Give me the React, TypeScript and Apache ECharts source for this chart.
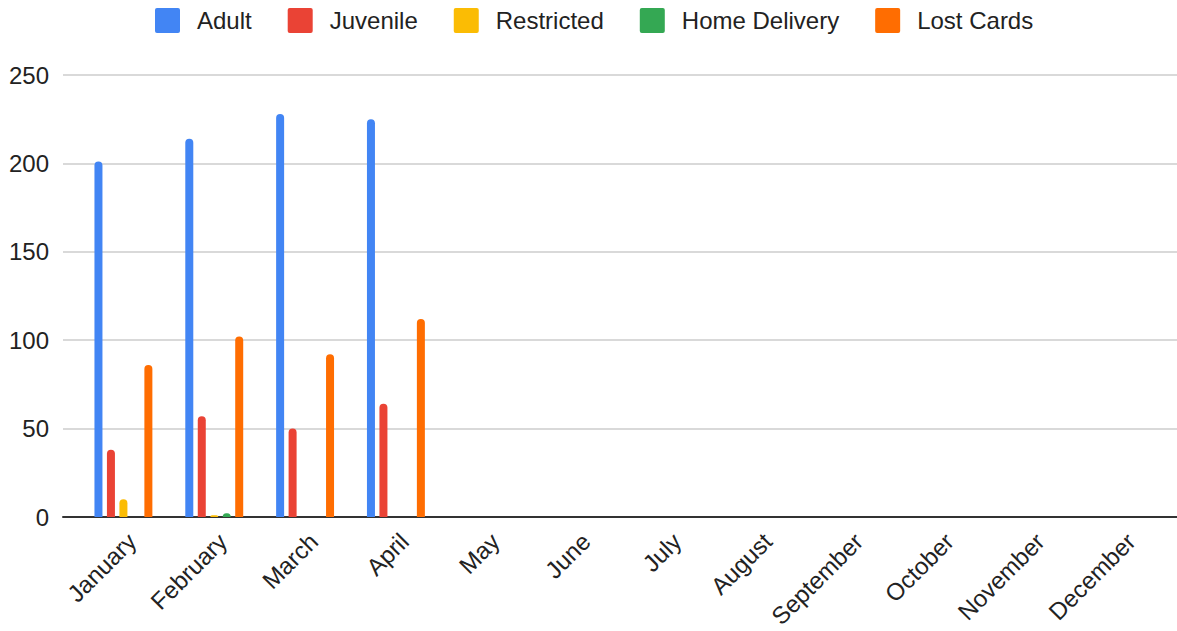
import React, { useEffect, useRef } from "react";
import * as echarts from "echarts";

const months = [
  "January", "February", "March", "April", "May", "June",
  "July", "August", "September", "October", "November", "December",
];
const adult = [201, 214, 228, 225, 0, 0, 0, 0, 0, 0, 0, 0];
const juvenile = [38, 57, 50, 64, 0, 0, 0, 0, 0, 0, 0, 0];
const restricted = [10, 1, 0, 0, 0, 0, 0, 0, 0, 0, 0, 0];
const homeDelivery = [0, 2, 0, 0, 0, 0, 0, 0, 0, 0, 0, 0];
const lostCards = [86, 102, 92, 112, 0, 0, 0, 0, 0, 0, 0, 0];

const seriesNames = ["Adult", "Juvenile", "Restricted", "Home Delivery", "Lost Cards"];
const seriesData = [adult, juvenile, restricted, homeDelivery, lostCards];
const colors = ["#4285F4", "#EA4335", "#FBBC04", "#34A853", "#FF6D01"];

const FONT = "'Liberation Sans', Arial, sans-serif";
const ICON =
  "path://M2,0H23A2,2 0 0 1 25,2V23A2,2 0 0 1 23,25H2A2,2 0 0 1 0,23V2A2,2 0 0 1 2,0Z";

export default function App() {
  const ref = useRef<HTMLDivElement>(null);
  useEffect(() => {
    if (!ref.current) return;
    const chart = echarts.init(ref.current, undefined, { renderer: "svg" });
    chart.setOption({
      animation: false,
      color: colors,
      textStyle: { fontFamily: FONT },
      legend: {
        top: 3,
        left: 150,
        itemWidth: 25,
        itemHeight: 25,
        itemGap: 36,
        icon: ICON,
        textStyle: { fontSize: 24, color: "#222", fontFamily: FONT, padding: [0, 0, 0, 12] },
        data: seriesNames,
      },
      grid: [
        { left: 63, right: 0, top: 75, bottom: 114 },
        { left: 78, right: 9, top: 75, bottom: 114 },
      ],
      xAxis: [
        {
          gridIndex: 0,
          type: "value",
          min: 0,
          max: 1,
          axisLine: { show: true, onZero: true, lineStyle: { color: "#333", width: 2 } },
          axisTick: { show: false },
          axisLabel: { show: false },
          splitLine: { show: false },
        },
        {
          gridIndex: 1,
          type: "category",
          data: months,
          axisLine: { show: false },
          axisTick: { show: false },
          axisLabel: {
            rotate: 45,
            fontSize: 24,
            color: "#222",
            fontFamily: FONT,
            margin: 12,
            interval: 0,
            verticalAlign: "top",
          },
        },
      ],
      yAxis: [
        {
          gridIndex: 0,
          type: "value",
          min: 0,
          max: 250,
          interval: 50,
          axisLine: { show: false },
          axisTick: { show: false },
          axisLabel: { fontSize: 24, color: "#222", fontFamily: FONT, margin: 14 },
          splitLine: { lineStyle: { color: "#cccccc", width: 1.5 } },
        },
        {
          gridIndex: 1,
          type: "value",
          min: 0,
          max: 250,
          interval: 50,
          show: false,
          splitLine: { show: false },
        },
      ],
      series: seriesNames.map((name, i) => ({
        name,
        type: "bar",
        xAxisIndex: 1,
        yAxisIndex: 1,
        data: seriesData[i],
        barWidth: 8,
        barGap: "56%",
        itemStyle: { color: colors[i], borderRadius: [4, 4, 0, 0] },
      })),
    });
    return () => chart.dispose();
  }, []);
  return (
    <div
      ref={ref}
      style={{ position: "fixed", left: 0, top: 0, width: 1177, height: 631, background: "#fff" }}
    />
  );
}
